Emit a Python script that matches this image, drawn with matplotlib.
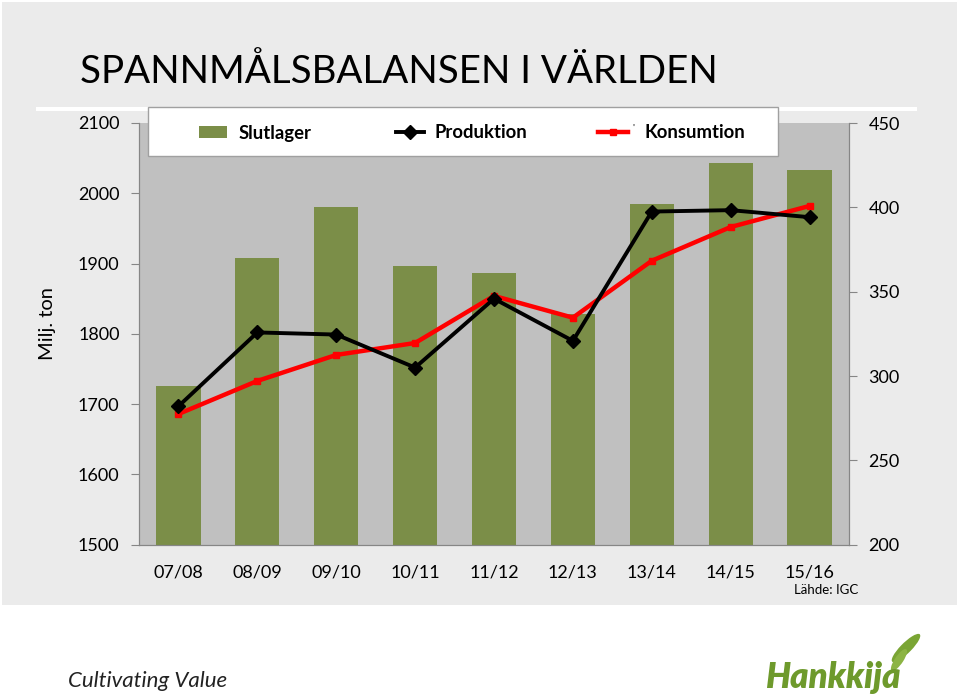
import matplotlib.pyplot as plt
from matplotlib.patches import Rectangle, Ellipse
from matplotlib.lines import Line2D

plt.rcParams['font.family'] = ['Lato', 'DejaVu Sans']

# data
seasons = ['07/08', '08/09', '09/10', '10/11', '11/12', '12/13', '13/14', '14/15', '15/16']
slutlager = [294, 370, 400, 365, 361, 337, 402, 426, 422]           # right axis
produktion = [1697, 1802, 1799, 1752, 1850, 1790, 1974, 1976, 1966]  # left axis
konsumtion = [1686, 1733, 1770, 1787, 1854, 1823, 1904, 1952, 1982]  # left axis
left_ticks = [1500, 1600, 1700, 1800, 1900, 2000, 2100]
right_ticks = [200, 250, 300, 350, 400, 450]

W, H = 960, 698
fig = plt.figure(figsize=(9.6, 6.98), dpi=100)
fig.patch.set_facecolor('white')

def px(x, y):
    # pixel (from top-left) -> figure coords
    return x / W, 1 - y / H

# gray slide panel + white rule under title
fig.add_artist(Rectangle(px(2, 605), 955 / W, 603 / H, transform=fig.transFigure,
                         facecolor='#ebebeb', edgecolor='none', zorder=0))
fig.add_artist(Rectangle(px(36, 111), (917 - 36) / W, 4 / H, transform=fig.transFigure,
                         facecolor='white', edgecolor='none', zorder=1))

fig.text(*px(80, 72), 'SPANNMÅLSBALANSEN I VÄRLDEN', fontsize=27.7, va='center', ha='left', color='black')

ax = fig.add_axes([139 / W, 1 - 544.7 / H, 710 / W, (544.7 - 123) / H])
ax.set_facecolor('#c0c0c0')
x = range(len(seasons))
ax.bar(x, slutlager, width=0.56, color='#7b8e48', zorder=2)
ax.set_ylim(200, 450)
ax.set_xlim(-0.5, len(seasons) - 0.5)

ax2 = ax.twinx()
ax.yaxis.tick_right()
ax.set_yticks(right_ticks)
ax2.yaxis.tick_left()
ax2.plot(x, konsumtion, color='#ff0000', lw=3.2, marker='s', ms=5, zorder=3)
ax2.plot(x, produktion, color='black', lw=2.8, marker='D', ms=7.5, zorder=4)
ax2.set_ylim(1500, 2100)
ax2.set_yticks(left_ticks)
fig.text(*px(47, 324), 'Milj. ton', fontsize=14.5, rotation=90, ha='center', va='center')

for a in (ax, ax2):
    for s in a.spines.values():
        s.set_color('#868686')
    a.spines['top'].set_visible(False)
    a.tick_params(axis='y', labelsize=13, color='#868686', length=6, pad=8)

ax.set_xticks([i + 0.5 for i in range(-1, len(seasons))])
ax.set_xticklabels([])
ax.set_xticks(list(x), minor=True)
ax.set_xticklabels(seasons, minor=True, fontsize=13)
ax.tick_params(axis='x', which='major', color='#868686', length=6)
ax.tick_params(axis='x', which='minor', length=0, pad=14)
ax2.set_xticks([])

# legend box
fig.add_artist(Rectangle(px(148, 156), (778 - 148) / W, 49 / H, transform=fig.transFigure,
                         facecolor='white', edgecolor='#a0a0a0', lw=1, zorder=5))
fig.add_artist(Rectangle(px(199, 138), 28 / W, 12 / H, transform=fig.transFigure,
                         facecolor='#7b8e48', edgecolor='none', zorder=6))
fig.text(*px(239, 133), 'Slutlager', fontsize=13.3, fontweight='bold', va='center', zorder=6)
ly = 1 - 132 / H
fig.add_artist(Line2D([396 / W, 424 / W], [ly, ly], color='black', lw=2.8, zorder=6))
fig.add_artist(Line2D([410 / W], [ly], color='black', marker='D', ms=7.5, zorder=6))
fig.text(*px(435, 133), 'Produktion', fontsize=13.3, fontweight='bold', va='center', zorder=6)
fig.add_artist(Line2D([598 / W, 628 / W], [ly, ly], color='#ff0000', lw=3.2, zorder=6))
fig.add_artist(Line2D([613 / W], [ly], color='#ff0000', marker='s', ms=5, zorder=6))
fig.text(*px(632, 128), "'", fontsize=7, va='center', zorder=6)
fig.text(*px(644, 133), 'Konsumtion', fontsize=13.3, fontweight='bold', va='center', zorder=6)

fig.text(*px(858, 590), 'Lähde: IGC', fontsize=9.5, ha='right', va='center')

# footer
fig.text(*px(68, 681), 'Cultivating Value', fontsize=16, style='italic', va='center', color='#222222')
fig.text(*px(765, 678), 'Hankkija', fontsize=25, style='italic', fontweight='heavy',
         va='center', color='#6e9a2c')
fig.add_artist(Ellipse(px(906, 648), 12 / W, 34 / H, angle=-35, transform=fig.transFigure,
                       facecolor='#7aa534', edgecolor='none'))
fig.add_artist(Ellipse(px(899, 660), 9 / W, 24 / H, angle=-25, transform=fig.transFigure,
                       facecolor='#8cb443', edgecolor='none'))

fig.savefig('out.png', dpi=100)
